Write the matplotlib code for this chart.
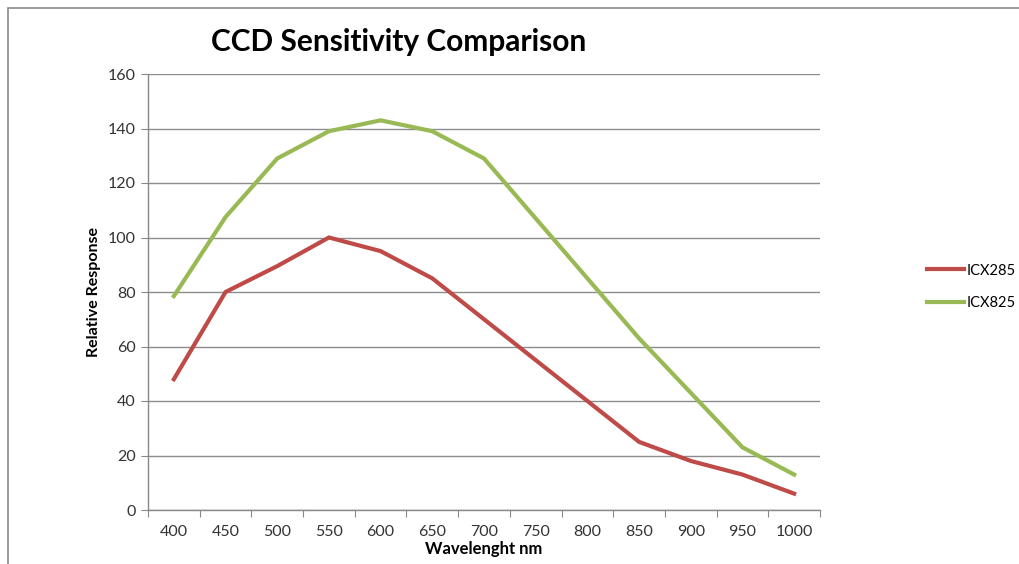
import matplotlib
matplotlib.use("Agg")
import matplotlib.pyplot as plt
from matplotlib.patches import Rectangle

plt.rcParams['font.family'] = ['Lato', 'DejaVu Sans']

wavelengths = ["400", "450", "500", "550", "600", "650", "700",
               "750", "800", "850", "900", "950", "1000"]
icx285 = [48, 80, 89.5, 100, 95, 85, 70, 55, 40, 25, 18, 13, 6]
icx825 = [78.5, 107.5, 129, 139, 143, 139, 129, 107, 85, 63, 43, 23, 13]
y_ticks = [0, 20, 40, 60, 80, 100, 120, 140, 160]

series_names = ["ICX285", "ICX825"]
series_colors = ["#BE4B48", "#98B954"]

fig = plt.figure(figsize=(10.2, 5.64), dpi=100)
ax = fig.add_axes([148 / 1020, 1 - 510 / 564, (820 - 148) / 1020, (510 - 74) / 564])

x = list(range(len(wavelengths)))
for vals, name, col in zip([icx285, icx825], series_names, series_colors):
    ax.plot(x, vals, color=col, lw=3.0, label=name, solid_joinstyle='miter')

ax.set_xlim(-0.5, len(wavelengths) - 0.5)
ax.set_ylim(0, 160)
ax.set_yticks(y_ticks)
ax.set_yticklabels([str(v) for v in y_ticks])

# category axis: tick marks between categories, labels centred on them
ax.set_xticks([i - 0.5 for i in range(len(wavelengths) + 1)])
ax.set_xticklabels([])
ax.set_xticks(x, minor=True)
ax.set_xticklabels(wavelengths, minor=True)
ax.tick_params(axis='x', which='major', length=5, color='#888888', direction='out')
ax.tick_params(axis='x', which='minor', length=0, pad=11, labelsize=11.5, labelcolor='#333333')
ax.tick_params(axis='y', length=5, color='#888888', direction='out', pad=4,
               labelsize=11.5, labelcolor='#333333')

ax.grid(axis='y', color='#8c8c8c', lw=1.0)
ax.set_axisbelow(True)
for side in ['top', 'right']:
    ax.spines[side].set_visible(False)
for side in ['left', 'bottom']:
    ax.spines[side].set_color('#888888')
    ax.spines[side].set_linewidth(1.0)

ax.set_xlabel("Wavelenght nm", fontsize=12, fontweight='bold', labelpad=1)
ax.set_ylabel("Relative Response", fontsize=11.5, fontweight='bold', labelpad=5)

fig.text(399 / 1020, 1 - 42 / 564, "CCD Sensitivity Comparison", fontsize=21.5,
         fontweight='bold', ha='center', va='center')

leg = ax.legend(loc='center left', bbox_to_anchor=(914 / 1020, 1 - 287 / 564),
                bbox_transform=fig.transFigure, frameon=False, fontsize=10.5,
                handlelength=2.5, handletextpad=0.2, labelspacing=1.3)

# chart border
fig.patches.append(Rectangle((8 / 1020, -0.1), 1.2, 1 - 8 / 564 + 0.1,
                             transform=fig.transFigure, fill=False,
                             edgecolor='#8a8a8a', lw=1.2))

fig.savefig("out.png", dpi=100)
